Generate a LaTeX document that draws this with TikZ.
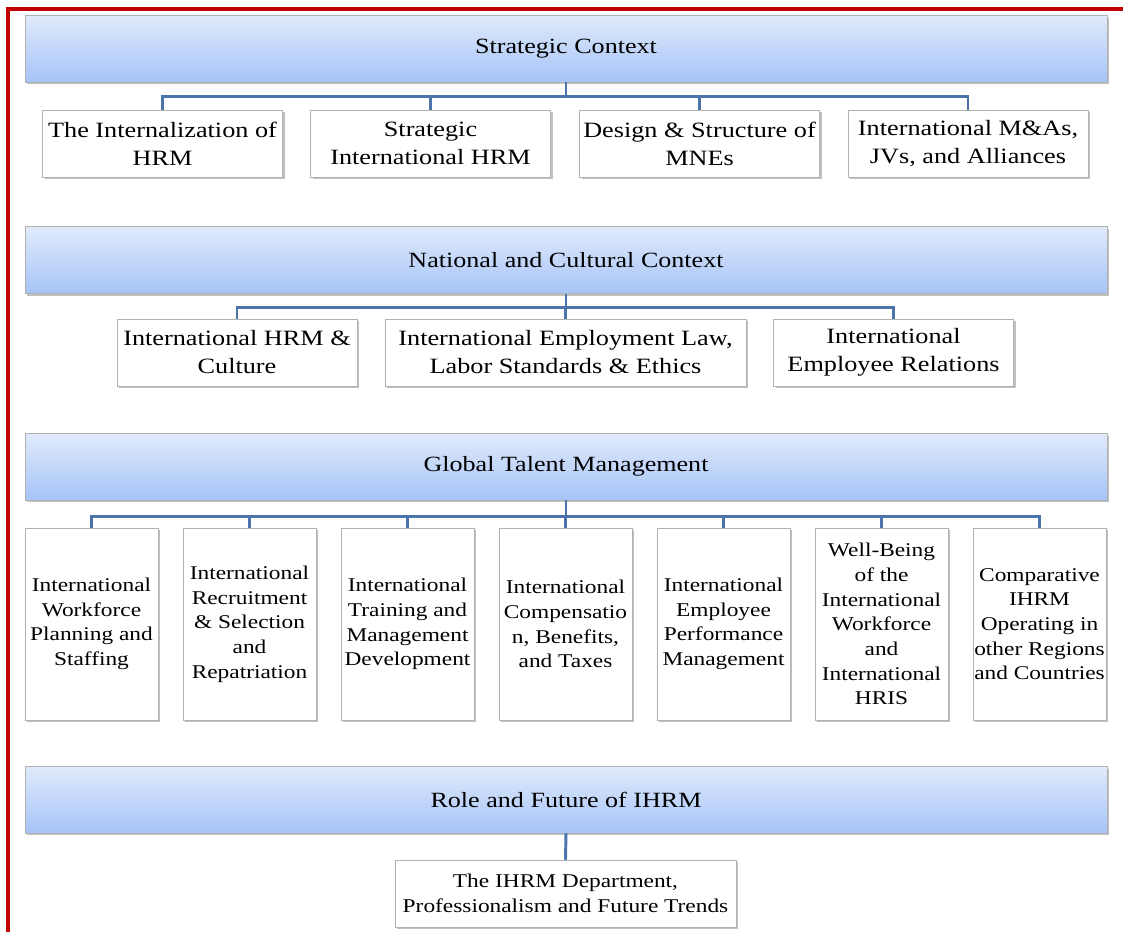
\documentclass[tikz,border=0pt]{standalone}
\usepackage{fontspec}
\setmainfont{Liberation Serif}[FakeStretch=1.2]
\usepackage{xcolor}
\usetikzlibrary{shadows}

\definecolor{headtop}{HTML}{E0EAFB}
\definecolor{headbot}{HTML}{A6C4F8}
\definecolor{linkblue}{HTML}{4A74AA}
\definecolor{framered}{HTML}{C00000}

\tikzset{
	boxshadow/.style={
			drop shadow={shadow xshift=1.8pt, shadow yshift=-1.8pt, fill=black!45, opacity=.55}
		},
	head/.style={
			draw=black!30, top color=headtop, bottom color=headbot,
			minimum width=811.5pt, minimum height=50pt, inner sep=0pt,
			font=\fontsize{16.3}{20}\selectfont, boxshadow
		},
	topic/.style={
			draw=black!30, fill=white, align=center, inner sep=0pt,
			minimum width=180pt, minimum height=50.25pt,
			font=\fontsize{16.4}{21}\selectfont, boxshadow
		},
	small/.style={font=\fontsize{14.6}{18.5}\selectfont},
	tall/.style={topic, small, minimum width=99.75pt, minimum height=144pt},
	link/.style={draw=linkblue, line width=2.2pt}
}

\begin{document}
\begin{tikzpicture}[x=0.75pt, y=0.75pt]
	\useasboundingbox (0,0) rectangle (1123,-932);

	% frame
	\draw[framered, line width=2.4pt] (8,-932) -- (8,-9) -- (1123,-9);

	% headings
	\node[head] (sc) at (566,-48.5) {Strategic Context};
	\node[head] (nc) at (566,-260) {National and Cultural Context};
	\node[head] (gt) at (566,-466.5) {Global Talent Management};
	\node[head] (rf) at (566,-799.5) {Role and Future of IHRM};

	% strategic context
	\node[topic] (s1) at (162.5,-143.5) {The Internalization of\\HRM};
	\node[topic] (s2) at (430.5,-143.5) {Strategic\\International HRM};
	\node[topic] (s3) at (699.5,-143.5) {Design \& Structure of\\MNEs};
	\node[topic] (s4) at (968,-143.5) {International M\&As,\\JVs, and Alliances};

	% national and cultural context
	\node[topic] (n1) at (237,-352.5) {International HRM \&\\Culture};
	\node[topic, minimum width=270.75pt] (n2) at (565.5,-352.5) {International Employment Law,\\Labor Standards \& Ethics};
	\node[topic] (n3) at (893.5,-352.5) {International\\Employee Relations};

	% global talent management
	\node[tall] (g1) at (91.5,-624) {International\\Workforce\\Planning and\\Staffing};
	\node[tall] (g2) at (249.5,-624) {International\\Recruitment\\\& Selection\\and\\Repatriation};
	\node[tall] (g3) at (407.5,-624) {International\\Training and\\Management\\Development};
	\node[tall] (g4) at (565.5,-624) {International\\Compensatio\\n, Benefits,\\and Taxes};
	\node[tall] (g5) at (723.5,-624) {International\\Employee\\Performance\\Management};
	\node[tall] (g6) at (881.5,-624) {Well-Being\\of the\\International\\Workforce\\and\\International\\HRIS};
	\node[tall] (g7) at (1039.5,-624) {Comparative\\IHRM\\Operating in\\other Regions\\and Countries};

	% role and future
	\node[topic, small, minimum width=255.75pt] (f1) at (565.5,-893.5) {The IHRM Department,\\Professionalism and Future Trends};

	% connectors
	\foreach \b in {s1,s2,s3,s4}
	\draw[link] (sc.south) -- ++(0,-14) -| (\b.north);
	\foreach \b in {n1,n2,n3}
	\draw[link] (nc.south) -- ++(0,-14) -| (\b.north);
	\foreach \b in {g1,g2,g3,g4,g5,g6,g7}
	\draw[link] (gt.south) -- ++(0,-16) -| (\b.north);
	\draw[link] (rf.south) -- (f1.north);
\end{tikzpicture}
\end{document}
